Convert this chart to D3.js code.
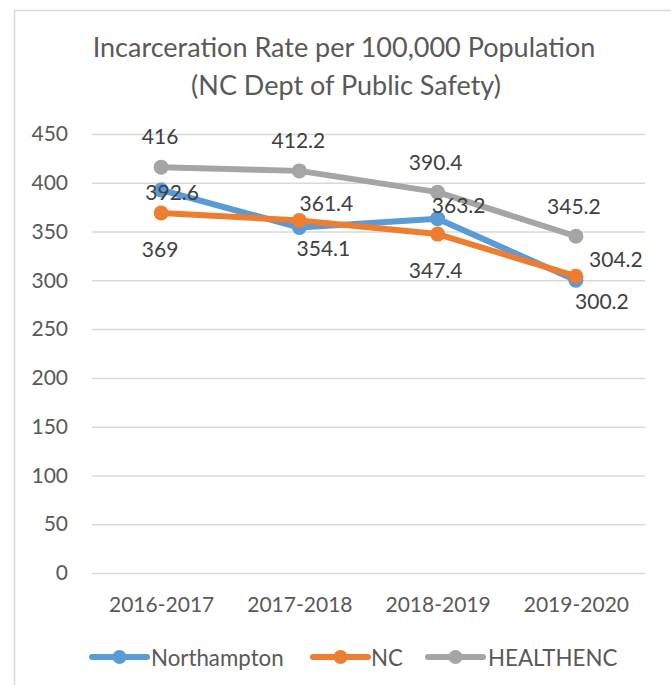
<!DOCTYPE html>
<html>
<head>
<meta charset="utf-8">
<script src="https://cdn.jsdelivr.net/npm/d3@7/dist/d3.min.js"></script>
<style>
  html, body { margin: 0; padding: 0; background: #fff; }
  svg { display: block; font-family: Lato, "Open Sans", sans-serif; }
</style>
</head>
<body>
<svg id="chart" width="671" height="685"></svg>
<script>
// ---- data ----
const categories = ["2016-2017", "2017-2018", "2018-2019", "2019-2020"];
const seriesNames = ["Northampton", "NC", "HEALTHENC"];
const northampton = [392.6, 354.1, 363.2, 300.2];
const nc = [369, 361.4, 347.4, 304.2];
const healthenc = [416, 412.2, 390.4, 345.2];
const yTicks = [0, 50, 100, 150, 200, 250, 300, 350, 400, 450];
const titleLines = ["Incarceration Rate per 100,000 Population", "(NC Dept of Public Safety)"];

// ---- styling / layout (not data) ----
const colors = ["#5B9BD5", "#ED7D31", "#A5A5A5"];
// label offsets from point (dx, dy), per series, per category
const labelOffsets = [
  [[11, 2], [24, 20], [21, -14], [26, 20]],
  [[-1, 35], [27, -18], [-2, 35], [40, -18]],
  [[-1, -32], [-1, -31], [-2, -31], [-2, -31]]
];

const series = [northampton, nc, healthenc].map((vals, i) => ({
  name: seriesNames[i], values: vals, color: colors[i], offsets: labelOffsets[i]
}));

const svg = d3.select("#chart");
const plotL = 92, plotR = 645, plotT = 134, plotB = 573;

// chart border
svg.append("rect")
  .attr("x", 14.5).attr("y", 10.5)
  .attr("width", 720).attr("height", 720)
  .attr("fill", "none").attr("stroke", "#D9D9D9").attr("stroke-width", 1.5);

// title
svg.append("text")
  .attr("x", 344).attr("y", 57)
  .attr("text-anchor", "middle")
  .attr("font-size", 27).attr("fill", "#595959")
  .text(titleLines[0]);
svg.append("text")
  .attr("x", 346).attr("y", 95)
  .attr("text-anchor", "middle")
  .attr("font-size", 27).attr("fill", "#595959")
  .text(titleLines[1]);

const x = d3.scalePoint().domain(categories).range([plotL, plotR]).padding(0.5);
const y = d3.scaleLinear().domain([0, 450]).range([plotB, plotT]);

// gridlines via axis
const yAxis = d3.axisLeft(y).tickValues(yTicks).tickSize(-(plotR - plotL)).tickPadding(24);
const gy = svg.append("g").attr("transform", `translate(${plotL},0)`).call(yAxis);
gy.select(".domain").remove();
gy.selectAll(".tick line").attr("stroke", "#D9D9D9").attr("stroke-width", 1.5);
gy.selectAll(".tick text")
  .attr("font-size", 21).attr("fill", "#595959")
  .attr("font-family", "Lato, sans-serif");

// x axis labels
const xAxis = d3.axisBottom(x).tickSize(0).tickPadding(24);
const gx = svg.append("g").attr("transform", `translate(0,${plotB})`).call(xAxis);
gx.select(".domain").remove();
gx.selectAll(".tick text")
  .attr("font-size", 21).attr("fill", "#595959")
  .attr("font-family", "Lato, sans-serif");

// lines + markers
const line = d3.line().x((d, i) => x(categories[i])).y(d => y(d));
series.forEach(s => {
  const g = svg.append("g");
  g.append("path")
    .attr("d", line(s.values))
    .attr("fill", "none").attr("stroke", s.color)
    .attr("stroke-width", 6).attr("stroke-linejoin", "round").attr("stroke-linecap", "round");
  g.selectAll("circle").data(s.values).join("circle")
    .attr("cx", (d, i) => x(categories[i]))
    .attr("cy", d => y(d))
    .attr("r", 7.5)
    .attr("fill", s.color);
});

// data labels
series.forEach(s => {
  svg.append("g").selectAll("text").data(s.values).join("text")
    .attr("x", (d, i) => x(categories[i]) + s.offsets[i][0])
    .attr("y", (d, i) => y(d) + s.offsets[i][1])
    .attr("text-anchor", "middle")
    .attr("dominant-baseline", "central")
    .attr("font-size", 21).attr("fill", "#404040")
    .text(d => d);
});

// legend
const legendItems = [
  { lx: 92, tx: 151 },
  { lx: 313, tx: 371 },
  { lx: 428, tx: 488 }
];
const ly = 657;
series.forEach((s, i) => {
  const it = legendItems[i];
  const g = svg.append("g");
  g.append("line")
    .attr("x1", it.lx).attr("x2", it.lx + 55)
    .attr("y1", ly).attr("y2", ly)
    .attr("stroke", s.color).attr("stroke-width", 6).attr("stroke-linecap", "round");
  g.append("circle").attr("cx", it.lx + 27.5).attr("cy", ly).attr("r", 7).attr("fill", s.color);
  g.append("text")
    .attr("x", it.tx).attr("y", ly)
    .attr("dominant-baseline", "central")
    .attr("font-size", 22.3).attr("fill", "#595959")
    .text(s.name);
});
</script>
</body>
</html>
